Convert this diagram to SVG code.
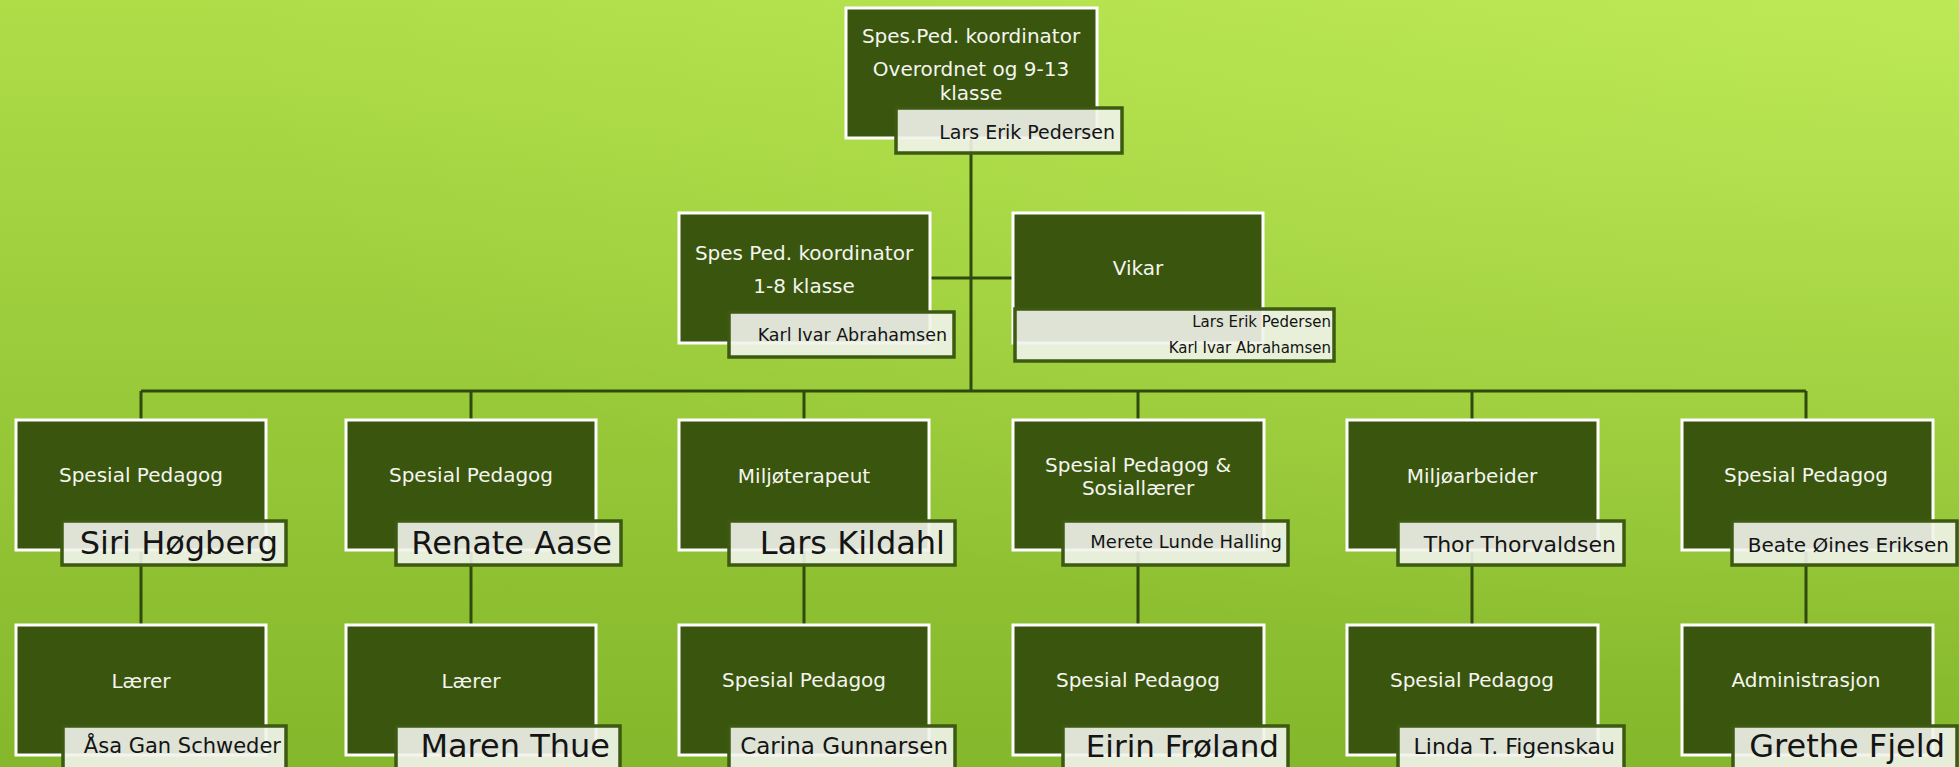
<svg xmlns="http://www.w3.org/2000/svg" width="1959" height="767" viewBox="0 0 1959 767">
<defs>
<linearGradient id="bg" x1="0" y1="0" x2="0" y2="1">
<stop offset="0" stop-color="#aedd48"/>
<stop offset="1" stop-color="#84b72b"/>
</linearGradient>
<radialGradient id="glow" cx="1" cy="0" r="0.9">
<stop offset="0" stop-color="#d8ff70" stop-opacity="0.35"/>
<stop offset="1" stop-color="#d8ff70" stop-opacity="0"/>
</radialGradient>
<style>
.box{fill:#3a550e;stroke:#ffffff;stroke-width:3}
.nb{fill:#f1f3eb;fill-opacity:0.9;stroke:#3d5a12;stroke-width:3.5}
.t{font-family:"DejaVu Sans","Liberation Sans",sans-serif;font-size:20px;fill:#f4f5ee;text-anchor:middle}
.n{font-family:"DejaVu Sans","Liberation Sans",sans-serif;fill:#141414;text-anchor:end}
.c{fill:none;stroke:#2f4a0c;stroke-width:3}
</style>
</defs>
<rect x="0" y="0" width="1959" height="767" fill="url(#bg)"/>
<rect x="0" y="0" width="1959" height="767" fill="url(#glow)"/>
<g id="connectors">
<path class="c" d="M971 138V391"/>
<path class="c" d="M930 278H1013"/>
<path class="c" d="M141 391H1806"/>
<path class="c" d="M141 391V420M471 391V420M804 391V420M1138 391V420M1472 391V420M1806 391V420"/>
<path class="c" d="M141 550V625M471 550V625M804 550V625M1138 550V625M1472 550V625M1806 550V625"/>
</g>
<g id="node-top">
<rect class="box" x="846" y="8" width="251" height="130"/>
<text class="t" x="971" y="43">Spes.Ped. koordinator</text>
<text class="t" x="971" y="76">Overordnet og 9-13</text>
<text class="t" x="971" y="100">klasse</text>
<rect class="nb" x="896" y="108" width="226" height="45"/>
<text class="n" x="1115" y="139" font-size="19">Lars Erik Pedersen</text>
</g>
<g id="node-koord18">
<rect class="box" x="679" y="213" width="251" height="130"/>
<text class="t" x="804" y="260">Spes Ped. koordinator</text>
<text class="t" x="804" y="293">1-8 klasse</text>
<rect class="nb" x="729" y="312" width="225" height="45"/>
<text class="n" x="947" y="341" font-size="17.5">Karl Ivar Abrahamsen</text>
</g>
<g id="node-vikar">
<rect class="box" x="1013" y="213" width="250" height="130"/>
<text class="t" x="1138" y="275">Vikar</text>
<rect class="nb" x="1015" y="309" width="319" height="52"/>
<text class="n" x="1331" y="327" font-size="15">Lars Erik Pedersen</text>
<text class="n" x="1331" y="353" font-size="15">Karl Ivar Abrahamsen</text>
</g>
<g id="node-siri">
<rect class="box" x="16" y="420" width="250" height="130"/>
<text class="t" x="141" y="482">Spesial Pedagog</text>
<rect class="nb" x="62" y="521" width="224" height="44"/>
<text class="n" x="278" y="554" font-size="32">Siri Høgberg</text>
</g>
<g id="node-renate">
<rect class="box" x="346" y="420" width="250" height="130"/>
<text class="t" x="471" y="482">Spesial Pedagog</text>
<rect class="nb" x="396" y="521" width="225" height="44"/>
<text class="n" x="612" y="554" font-size="32">Renate Aase</text>
</g>
<g id="node-lars">
<rect class="box" x="679" y="420" width="250" height="130"/>
<text class="t" x="804" y="483">Miljøterapeut</text>
<rect class="nb" x="729" y="521" width="226" height="44"/>
<text class="n" x="945" y="554" font-size="32">Lars Kildahl</text>
</g>
<g id="node-merete">
<rect class="box" x="1013" y="420" width="251" height="130"/>
<text class="t" x="1138" y="472">Spesial Pedagog &amp;</text>
<text class="t" x="1138" y="495">Sosiallærer</text>
<rect class="nb" x="1063" y="521" width="225" height="44"/>
<text class="n" x="1282" y="548" font-size="18">Merete Lunde Halling</text>
</g>
<g id="node-thor">
<rect class="box" x="1347" y="420" width="251" height="130"/>
<text class="t" x="1472" y="483">Miljøarbeider</text>
<rect class="nb" x="1398" y="521" width="226" height="44"/>
<text class="n" x="1616" y="552" font-size="22">Thor Thorvaldsen</text>
</g>
<g id="node-beate">
<rect class="box" x="1682" y="420" width="251" height="130"/>
<text class="t" x="1806" y="482">Spesial Pedagog</text>
<rect class="nb" x="1732" y="521" width="225" height="44"/>
<text class="n" x="1949" y="552" font-size="20">Beate Øines Eriksen</text>
</g>
<g id="node-asa">
<rect class="box" x="16" y="625" width="250" height="130"/>
<text class="t" x="141" y="688">Lærer</text>
<rect class="nb" x="63" y="726" width="223" height="44"/>
<text class="n" x="281" y="753" font-size="21">Åsa Gan Schweder</text>
</g>
<g id="node-maren">
<rect class="box" x="346" y="625" width="250" height="130"/>
<text class="t" x="471" y="688">Lærer</text>
<rect class="nb" x="396" y="726" width="224" height="44"/>
<text class="n" x="610" y="757" font-size="32">Maren Thue</text>
</g>
<g id="node-carina">
<rect class="box" x="679" y="625" width="250" height="130"/>
<text class="t" x="804" y="687">Spesial Pedagog</text>
<rect class="nb" x="729" y="726" width="226" height="44"/>
<text class="n" x="948" y="754" font-size="23">Carina Gunnarsen</text>
</g>
<g id="node-eirin">
<rect class="box" x="1013" y="625" width="251" height="130"/>
<text class="t" x="1138" y="687">Spesial Pedagog</text>
<rect class="nb" x="1063" y="726" width="225" height="44"/>
<text class="n" x="1279" y="757" font-size="31">Eirin Frøland</text>
</g>
<g id="node-linda">
<rect class="box" x="1347" y="625" width="251" height="130"/>
<text class="t" x="1472" y="687">Spesial Pedagog</text>
<rect class="nb" x="1398" y="726" width="226" height="44"/>
<text class="n" x="1615" y="754" font-size="22">Linda T. Figenskau</text>
</g>
<g id="node-grethe">
<rect class="box" x="1682" y="625" width="251" height="130"/>
<text class="t" x="1806" y="687">Administrasjon</text>
<rect class="nb" x="1733" y="726" width="224" height="44"/>
<text class="n" x="1945" y="757" font-size="32">Grethe Fjeld</text>
</g>
</svg>
